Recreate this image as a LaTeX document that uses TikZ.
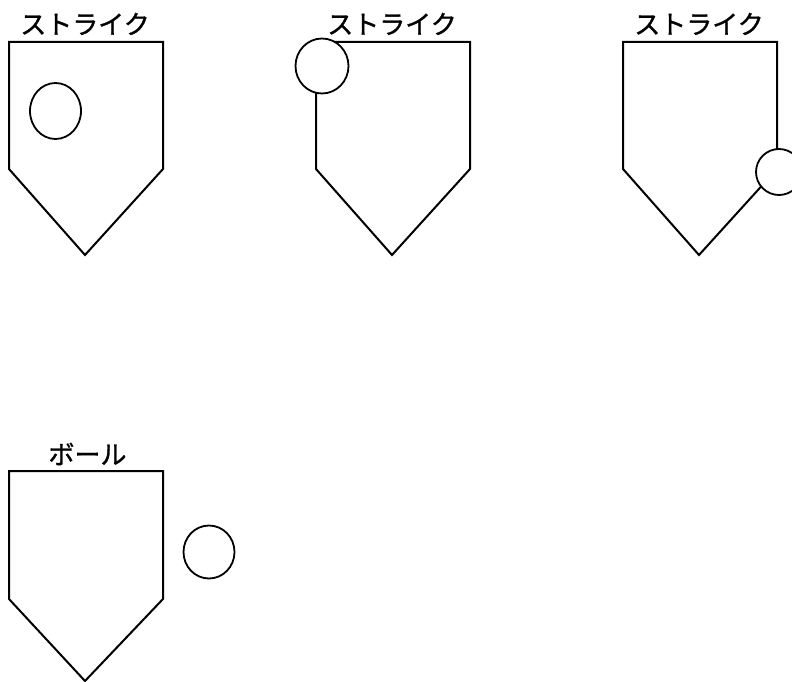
\documentclass[tikz,border=0pt]{standalone}
\usepackage{fontspec}
\newfontfamily\jpfont[FakeBold=1.2]{Noto Sans CJK JP}
\usetikzlibrary{shapes.geometric}
\tikzset{
  plate/.style={draw=black, line width=2pt, line join=miter},
  ball/.style={draw=black, fill=white, line width=1.8pt, ellipse, inner sep=0pt},
  lbl/.style={font=\jpfont\fontsize{26}{26}\selectfont, inner sep=0pt}
}
\begin{document}
\begin{tikzpicture}[x=1pt,y=-1pt]
\useasboundingbox (0,0) rectangle (792,682);
\clip (0,0) rectangle (792,682);
% plate 1
\draw[plate] (9,169) -- (9,42) -- (163,42) -- (163,169) -- (85,255) -- cycle;
\node[ball, minimum width=51pt, minimum height=56pt] (b1) at (55.5,111) {};
\node[lbl] (l1) at (85,24) {ストライク};
% plate 2
\draw[plate] (316,169) -- (316,42) -- (470,42) -- (470,169) -- (392,255) -- cycle;
\node[ball, minimum width=53pt, minimum height=55pt] (b2) at (322,66) {};
\node[lbl] (l2) at (392,24) {ストライク};
% plate 3
\draw[plate] (623,169) -- (623,42) -- (777,42) -- (777,169) -- (699,255) -- cycle;
\node[ball, minimum width=46pt, minimum height=46pt] (b3) at (779,172) {};
\node[lbl] (l3) at (699,24) {ストライク};
% plate 4
\draw[plate] (9,599) -- (9,471) -- (163,471) -- (163,599) -- (85,681) -- cycle;
\node[ball, minimum width=51pt, minimum height=53pt] (b4) at (209,552) {};
\node[lbl] (l4) at (87.5,454) {ボール};
\end{tikzpicture}
\end{document}
